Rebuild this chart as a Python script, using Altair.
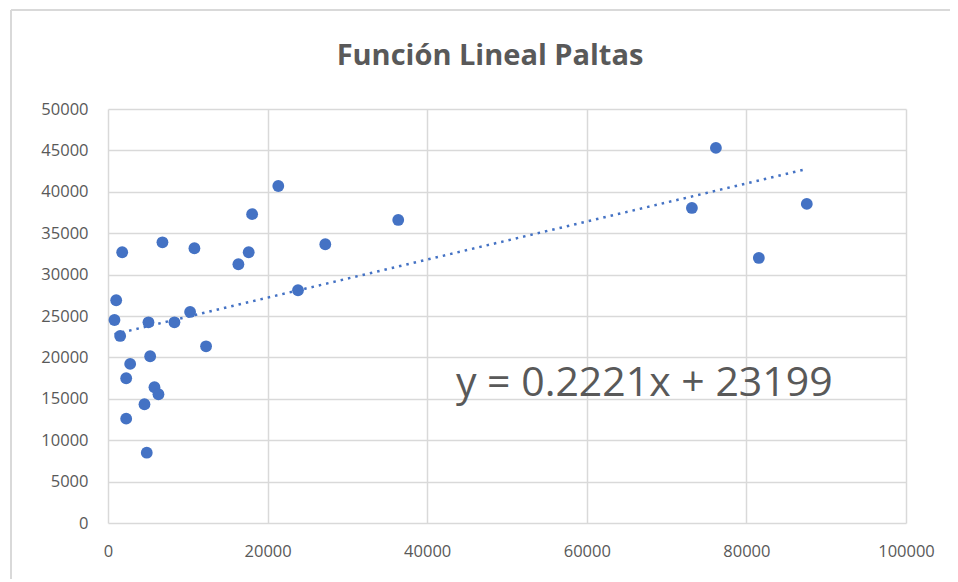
import altair as alt
import pandas as pd

x_vals = [1778, 6823, 10830, 16340, 17630, 18060, 27230, 1027, 814, 1527,
          5070, 8326, 10290, 12290, 23810, 2780, 5283, 2278, 5822, 6323,
          4570, 2278, 4858, 21340, 36370, 76180, 73170, 81560, 87570]
y_vals = [32700, 33900, 33180, 31250, 32700, 37300, 33670, 26900, 24520, 22590,
          24240, 24240, 25490, 21340, 28110, 19210, 20140, 17480, 16390, 15550,
          14340, 12600, 8490, 40700, 36600, 45300, 38050, 32010, 38540]

title_text = ["Función Lineal Paltas"]
equation_text = ["y = 0.2221x + 23199"]
equation_x = [67200]
equation_y = [15300]

df = pd.DataFrame({"x": x_vals, "y": y_vals})
ann = pd.DataFrame({"label": equation_text, "x": equation_x, "y": equation_y})
ttl = pd.DataFrame({"label": title_text})

gray = "#595959"
blue = "#4472C4"
frame_color = "#d9d9d9"
font = "Open Sans"

xs = alt.Scale(domain=[0, 100000], nice=False, zero=True)
ys = alt.Scale(domain=[0, 50000], nice=False, zero=True)

x_axis = alt.Axis(values=[0, 20000, 40000, 60000, 80000, 100000], format="d",
                  title=None, ticks=False, domain=False, labelPadding=20,
                  gridColor="#d9d9d9", labelFontSize=16.5, labelColor=gray,
                  labelFont=font, labelFlush=False)
y_axis = alt.Axis(values=list(range(0, 50001, 5000)), format="d",
                  title=None, ticks=False, domain=False, labelPadding=20,
                  gridColor="#d9d9d9", labelFontSize=16.5, labelColor=gray,
                  labelFont=font)

base = alt.Chart(df)

points = base.mark_circle(size=140, color=blue, opacity=1).encode(
    x=alt.X("x:Q", scale=xs, axis=x_axis),
    y=alt.Y("y:Q", scale=ys, axis=y_axis),
)

trend = base.transform_regression("x", "y", method="linear").mark_line(
    color=blue, strokeDash=[2.5, 5], strokeWidth=2.5
).encode(x=alt.X("x:Q", scale=xs), y=alt.Y("y:Q", scale=ys))

label = alt.Chart(ann).mark_text(
    fontSize=41, color=gray, font=font, align="center", baseline="alphabetic"
).encode(x=alt.X("x:Q", scale=xs), y=alt.Y("y:Q", scale=ys), text="label:N")

title_mark = alt.Chart(ttl).mark_text(
    fontSize=29, fontWeight="bold", color=gray, font=font,
    align="center", baseline="middle"
).encode(x=alt.value(382), y=alt.value(-53), text="label:N")

# chart-area frame (Excel chart border, left and top edges visible)
frame_left = alt.Chart(ann).mark_rule(color=frame_color, strokeWidth=2).encode(
    x=alt.value(-97), y=alt.value(-99), y2=alt.value(470))
frame_top = alt.Chart(ann).mark_rule(color=frame_color, strokeWidth=2).encode(
    x=alt.value(-97), x2=alt.value(842), y=alt.value(-99))

chart = alt.layer(frame_left, frame_top, points, trend, label, title_mark).properties(
    width=798, height=414,
    autosize=alt.AutoSizeParams(type="none"),
    padding={"left": 100, "top": 101, "right": 44, "bottom": 58},
).configure_view(stroke=None).configure_axis(gridWidth=1.5)

chart.save("out.html", embed_options={"renderer": "svg", "actions": False})
